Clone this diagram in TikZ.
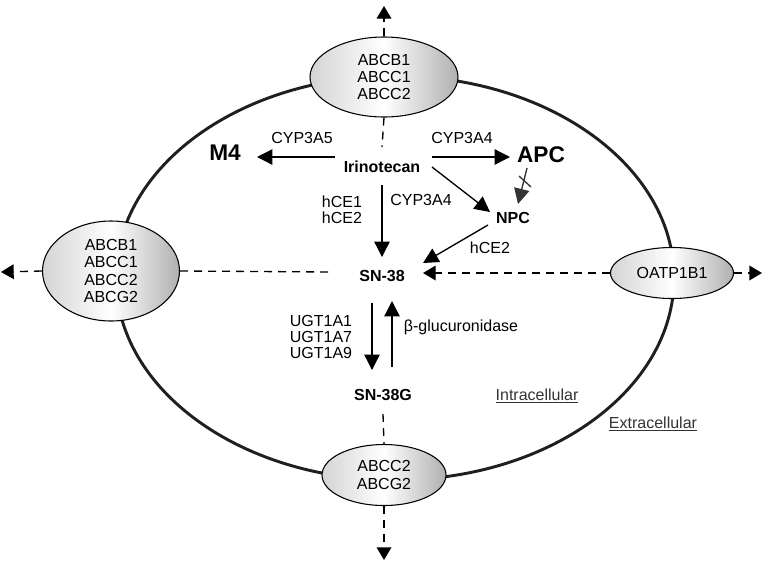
\documentclass[tikz,border=0pt]{standalone}
\usepackage{fontspec}
\setmainfont{Liberation Sans}
\usetikzlibrary{arrows.meta,positioning,shapes.geometric,calc}
\def\pxu{0.75pt}
\definecolor{shadelight}{HTML}{d4d4d4}
\definecolor{shadedark}{HTML}{b0b0b0}
\definecolor{labelgray}{HTML}{333333}

\begin{document}
\begin{tikzpicture}[x=\pxu, y=-\pxu, line join=round,
    myarrow/.style={-{Triangle[length=11.5pt,width=11.5pt]}, line width=1pt},
    dasharrow/.style={dashed line, -{Triangle[length=9.5pt,width=11pt]}}]
    \tikzstyle{dashed line}=[line width=1pt, dash pattern=on 6pt off 4.5pt]
    \tikzstyle{transporter}=[ellipse, draw=black, line width=0.8pt, left color=shadelight, right color=shadedark, middle color=white, inner sep=0pt, align=center, font=\fontsize{12}{13}\selectfont]
    \tikzstyle{metabolite}=[inner sep=1pt, font=\fontsize{12}{14}\selectfont\bfseries]
    \tikzstyle{big metabolite}=[metabolite, font=\fontsize{17}{20}\selectfont\bfseries]
    \tikzstyle{enzyme}=[inner sep=1pt, align=center, font=\fontsize{12}{11.7}\selectfont]
    \tikzstyle{compartment}=[enzyme, text=labelgray]
    \useasboundingbox (0,0) rectangle (763,561);
    % Draw the cell
    \draw[line width=2.2pt, draw=black!88] (395,278) ellipse [x radius=279*\pxu, y radius=202*\pxu];

    % Draw the transporters
    \node[transporter, minimum width=148*\pxu, minimum height=80*\pxu] (abc-top) at (384,77) {ABCB1\\ABCC1\\ABCC2};
    \node[transporter, minimum width=137*\pxu, minimum height=100*\pxu] (abc-left) at (111,271) {ABCB1\\ABCC1\\ABCC2\\ABCG2};
    \node[transporter, minimum width=123*\pxu, minimum height=51*\pxu] (oatp) at (672,273) {OATP1B1};
    \node[transporter, minimum width=124*\pxu, minimum height=61*\pxu] (abc-bot) at (384,475) {ABCC2\\ABCG2};

    \coordinate (top-tip) at (384,6);
    \coordinate (left-tip) at (1,272);
    \coordinate (right-tip) at (762,273);
    \coordinate (bot-tip) at (384,560);

    % Draw the metabolites
    \node[metabolite] (irino) at (382,167) {Irinotecan};
    \node[big metabolite] (m4) at (225,153) {M4};
    \node[big metabolite] (apc) at (541,155) {APC};
    \node[metabolite] (npc) at (513,218) {NPC};
    \node[metabolite] (sn38) at (382,276) {SN-38};
    \node[metabolite] (sn38g) at (383,395) {SN-38G};

    % Annotate the reactions
    \node[enzyme] (cyp3a5) at (302,138) {CYP3A5};
    \node[enzyme] (cyp3a4-apc) at (462,138) {CYP3A4};
    \node[enzyme] (cyp3a4-npc) at (421,200) {CYP3A4};
    \node[enzyme] (hce) at (342,210) {hCE1\\hCE2};
    \node[enzyme] (hce2) at (490,248) {hCE2};
    \node[enzyme, align=right] (ugt) at (321,337) {UGT1A1\\UGT1A7\\UGT1A9};
    \node[enzyme] (glu) at (461,327) {β-glucuronidase};
    \node[compartment] (intra) at (537,396) {\underline{Intracellular}};
    \node[compartment] (extra) at (653,424) {\underline{Extracellular}};

    % Connect every node
    \draw[myarrow] ($(irino)+(-47,-10)$) -- ($(m4)+(32,4)$);
    \draw[myarrow] ($(irino)+(50,-10)$) -- ($(apc)+(-31,2)$);
    \draw[myarrow] ($(irino)+(50,0)$) -- ($(npc)+(-23,-6)$);
    \draw[myarrow] ($(irino)+(0,18)$) -- ($(sn38)+(0,-19)$);
    \draw[myarrow] ($(npc)+(-25,7)$) -- ($(sn38)+(41,-13)$);
    \draw[myarrow] ($(sn38)+(-10,27)$) -- ($(sn38g)+(-11,-25)$);
    \draw[myarrow] ($(sn38g)+(9,-28)$) -- ($(sn38)+(10,25)$);
    \draw[myarrow, draw=black!80, fill=black!80] ($(apc)+(-14,13)$) -- ($(npc)+(5,-14)$);
    \draw[line width=1pt, draw=black!80] ($(apc)+(-22,21)$) -- ($(apc)+(-10,32)$);

    \foreach \source/\dest in {abc-top.north/top-tip, abc-left.west/left-tip, oatp.east/right-tip, abc-bot.south/bot-tip}
        \draw[dasharrow] (\source) -- (\dest);

    \draw[dasharrow] (oatp.west) -- ($(sn38)+(41,-3)$);
    \draw[dashed line] (abc-top.south) -- ($(irino)+(0,-20)$);
    \draw[dashed line] (abc-left.east) -- ($(sn38)+(-49,-4)$);
    \draw[dashed line] ($(sn38g)+(0,19)$) -- (abc-bot.north);
\end{tikzpicture}
\end{document}
